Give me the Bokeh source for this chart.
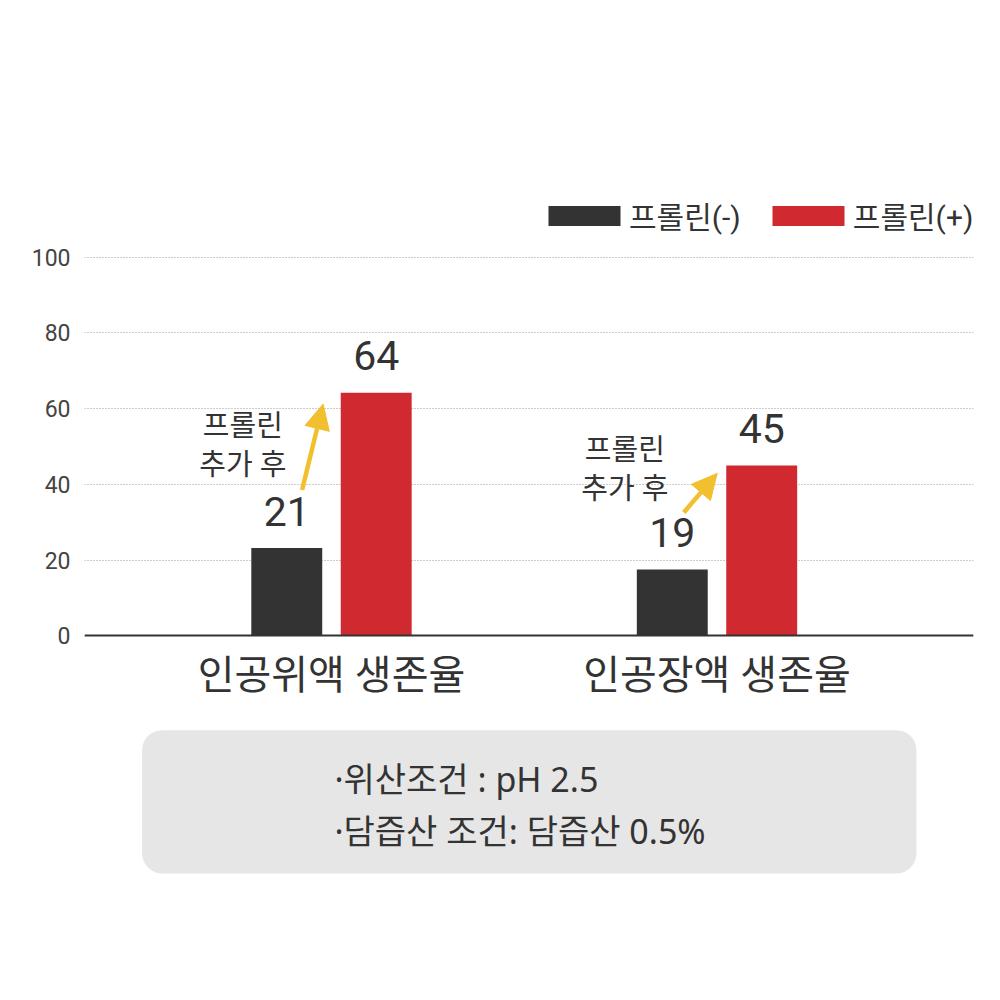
from bokeh.plotting import figure
from bokeh.models import (Range1d, FixedTicker, Legend, LegendItem, Arrow,
                          NormalHead, BoxAnnotation, ColumnDataSource)
from bokeh.core.properties import value
from bokeh.embed import file_html
from bokeh.resources import INLINE

# ---- data ----
categories = ["인공위액 생존율", "인공장액 생존율"]
series_names = ["프롤린(-)", "프롤린(+)"]
bar_minus = [23.2, 17.5]          # bar heights as drawn
bar_plus = [64.2, 45.0]
label_minus = ["21", "19"]        # printed value labels
label_plus = ["64", "45"]
y_ticks = [0, 20, 40, 60, 80, 100]
note_text = ["프롤린\n추가 후", "프롤린\n추가 후"]
box_lines = ["·위산조건 : pH 2.5", "·담즙산 조건: 담즙산 0.5%"]

# ---- styles ----
DARK = "#333333"
RED = "#D0292F"
YELLOW = "#F2C02E"
TEXT = "#333333"
KFONT = "Roboto, 'Noto Sans CJK KR'"
BOXFONT = "'Noto Sans', 'Noto Sans CJK KR'"

groups = [1, 2]
off = 0.116
bw = 0.184

p = figure(output_backend="svg", toolbar_location=None,
           frame_width=889, frame_height=697,
           x_range=Range1d(0.3593, 2.6654), y_range=Range1d(-68, 116),
           min_border_left=84, min_border_top=196, min_border_right=19,
           min_border_bottom=10)
p.outline_line_color = None
p.background_fill_color = "white"
p.border_fill_color = "white"

src_m = ColumnDataSource(dict(x=[g - off for g in groups], top=bar_minus, lab=label_minus))
src_p = ColumnDataSource(dict(x=[g + off for g in groups], top=bar_plus, lab=label_plus))

r_m = p.vbar(x="x", top="top", width=bw, bottom=0, source=src_m,
             fill_color=DARK, line_color=None)
r_p = p.vbar(x="x", top="top", width=bw, bottom=0, source=src_p,
             fill_color=RED, line_color=None)

# value labels
for src in (src_m, src_p):
    p.text(x="x", y="top", text="lab", source=src, text_align="center",
           text_baseline="alphabetic", y_offset=-37,
           text_font=value("Roboto"), text_font_size="41px", text_color=TEXT)

# axes
p.xaxis.fixed_location = 0
p.xaxis.ticker = FixedTicker(ticks=groups)
p.xaxis.major_label_overrides = {g: c for g, c in zip(groups, categories)}
p.xaxis.major_label_text_font = KFONT
p.xaxis.major_label_text_font_size = "40px"
p.xaxis.major_label_text_color = TEXT
p.xaxis.major_label_standoff = 10
p.xaxis.major_tick_line_color = None
p.xaxis.minor_tick_line_color = None
p.xaxis.axis_line_color = DARK
p.xaxis.axis_line_width = 2

p.yaxis.ticker = FixedTicker(ticks=y_ticks)
p.yaxis.axis_line_color = None
p.yaxis.major_tick_line_color = None
p.yaxis.minor_tick_line_color = None
p.yaxis.major_label_text_font = "Roboto"
p.yaxis.major_label_text_font_size = "23px"
p.yaxis.major_label_text_color = "#444444"
p.yaxis.major_label_standoff = 8

p.xgrid.grid_line_color = None
p.ygrid.grid_line_color = "#999999"
p.ygrid.grid_line_dash = "1 2"
p.ygrid.grid_line_width = 1

# annotation notes and arrows
note_x = [0.770, 1.761]
note_y = [59.8, 53.5]
p.text(x=note_x, y=note_y, text=note_text, text_align="center",
       text_baseline="top", text_font=value(KFONT), text_font_size="29px",
       text_color=TEXT, text_line_height=1.13)

arrow_start = [(0.9237, 38.5), (1.9140, 32.6)]
arrow_end = [(0.9782, 61.2), (2.0005, 42.9)]
for (xs, ys), (xe, ye) in zip(arrow_start, arrow_end):
    p.add_layout(Arrow(x_start=xs, y_start=ys, x_end=xe, y_end=ye,
                       line_color=YELLOW, line_width=4.5,
                       end=NormalHead(size=25, fill_color=YELLOW, line_color=YELLOW)))

# info box
p.add_layout(BoxAnnotation(left=0.5087, right=2.5175, top=-24.9, bottom=-62.7,
                           fill_color="#e6e6e6", fill_alpha=1, line_color=None,
                           border_radius=20, level="underlay"))
p.text(x=[1.0075, 1.0075], y=[-37.8, -51.6], text=box_lines, text_align="left",
       text_baseline="middle", text_font=value(BOXFONT),
       text_font_size="34px", text_color=TEXT)

# legend
legend = Legend(items=[LegendItem(label=series_names[0], renderers=[r_m]),
                       LegendItem(label=series_names[1], renderers=[r_p])],
                location=(455, 656), orientation="horizontal",
                glyph_width=90, glyph_height=25, label_standoff=0, spacing=22,
                padding=0, margin=0, border_line_color=None,
                background_fill_alpha=0,
                label_text_font=KFONT, label_text_font_size="30px",
                label_text_color=TEXT)
p.add_layout(legend)

open("out.html", "w").write(file_html(p, INLINE))
